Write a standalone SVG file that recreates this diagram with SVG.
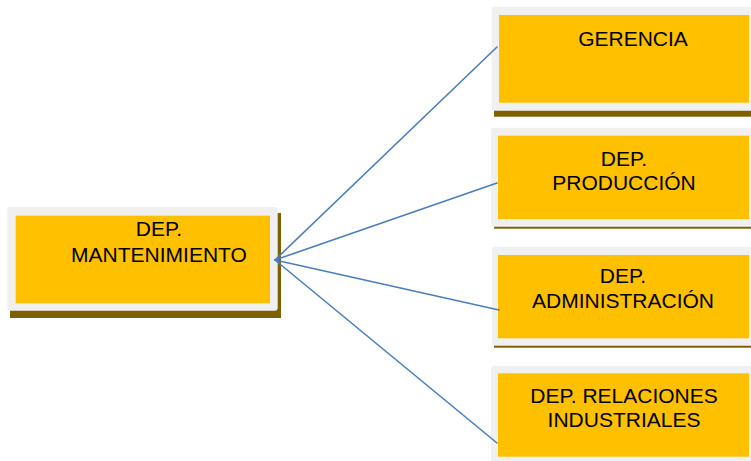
<svg xmlns="http://www.w3.org/2000/svg" width="751" height="461" viewBox="0 0 751 461">
  <style>
    .shadow { fill: #7F6000; }
    .frame { fill: #F0F0F0; }
    .box { fill: #FFC000; }
    .label { font-family: "Liberation Sans", Arial, sans-serif; font-size: 21px; fill: #000000; text-anchor: middle; }
    .link { stroke: #4A7EBB; stroke-width: 1.6; fill: none; stroke-linecap: round; }
  </style>
  <rect width="751" height="461" fill="#FFFFFF"/>

  <g id="node-mantenimiento">
    <rect class="shadow" x="10" y="213" width="271" height="105"/>
    <rect class="frame" x="7.3" y="207" width="270.4" height="103.7" rx="3"/>
    <rect class="box" x="15.7" y="215.7" width="254.3" height="87.6"/>
    <text class="label" x="159" y="236">DEP.</text>
    <text class="label" x="159" y="262">MANTENIMIENTO</text>
  </g>

  <g id="node-gerencia">
    <rect class="shadow" x="494" y="12" width="260" height="104.7"/>
    <rect class="frame" x="491.7" y="6.7" width="262" height="104" rx="3"/>
    <rect class="box" x="499" y="15" width="250" height="87.7"/>
    <text class="label" x="633" y="46">GERENCIA</text>
  </g>

  <g id="node-produccion">
    <rect class="shadow" x="494" y="130" width="260" height="98.7"/>
    <rect class="frame" x="491" y="127.7" width="263" height="99" rx="3"/>
    <rect class="box" x="498" y="135.7" width="251" height="83.3"/>
    <text class="label" x="624" y="166">DEP.</text>
    <text class="label" x="624" y="190">PRODUCCIÓN</text>
  </g>

  <g id="node-administracion">
    <rect class="shadow" x="494" y="249" width="260" height="98.7"/>
    <rect class="frame" x="492" y="246.7" width="262" height="99" rx="3"/>
    <rect class="box" x="498" y="255" width="251" height="83.3"/>
    <text class="label" x="623" y="283">DEP.</text>
    <text class="label" x="623" y="308">ADMINISTRACIÓN</text>
  </g>

  <g id="node-relaciones">
    <rect class="frame" x="491" y="365.7" width="263" height="100" rx="3"/>
    <rect class="box" x="498" y="373.3" width="251" height="83.4"/>
    <text class="label" x="624" y="403">DEP. RELACIONES</text>
    <text class="label" x="624" y="427">INDUSTRIALES</text>
  </g>

  <!-- connectors from the maintenance department to each department, drawn over the frames -->
  <g id="connectors">
    <line class="link" x1="275" y1="260" x2="497" y2="47"/>
    <line class="link" x1="275" y1="260" x2="497" y2="183"/>
    <line class="link" x1="275" y1="260" x2="499" y2="310"/>
    <line class="link" x1="275" y1="260" x2="497" y2="443"/>
  </g>
</svg>
